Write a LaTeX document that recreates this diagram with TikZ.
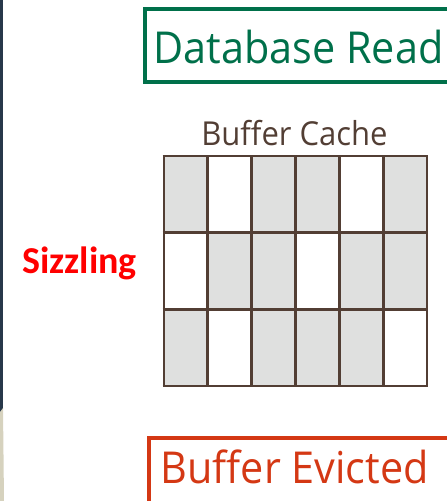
\documentclass[tikz,border=0pt]{standalone}
\usepackage{fontspec}
\newfontfamily\segoe[FakeStretch=0.94]{Open Sans}
\newfontfamily\calib{Carlito}
\definecolor{dbgreen}{RGB}{0,112,74}
\definecolor{evred}{RGB}{212,56,20}
\definecolor{gridbrown}{RGB}{82,62,52}
\definecolor{cellgray}{RGB}{223,224,223}
\definecolor{navy}{RGB}{40,56,74}
\definecolor{beige}{RGB}{214,210,190}
\tikzset{
  boxline/.style={line width=4pt},
  bigtext/.style={font=\segoe\fontsize{44}{48}\selectfont, inner sep=0pt, anchor=base west},
  gridline/.style={draw=gridbrown, line width=2.8pt},
}
\begin{document}
\begin{tikzpicture}[x=1pt,y=-1pt]
\useasboundingbox (0,0) rectangle (447,501);
\begin{scope}
\clip (0,0) rectangle (447,501);
% left strip
\fill[navy] (0,0) rectangle (3,412);
\fill[beige] (0,412) -- (3,408) -- (4,501) -- (0,501) -- cycle;
% green box
\draw[boxline, draw=dbgreen] (460,8.5) -- (145.3,8.5) -- (145.3,82) -- (460,82);
% red box
\draw[boxline, draw=evred] (460,437.5) -- (148.5,437.5) -- (148.5,503) -- (460,503);
% grid cells
\foreach \r/\row in {0/{1,0,1,1,0,1},1/{0,1,1,0,1,1},2/{1,0,1,1,1,0}}{
  \foreach \g [count=\c from 0] in \row{
    \ifnum\g=1
      \fill[cellgray] (164+43.83*\c,156+76.67*\r) rectangle ++(43.83,76.67);
    \fi
  }
}
\foreach \c in {0,...,6} \draw[gridline] (164+43.83*\c,156) -- (164+43.83*\c,386);
\foreach \r in {0,...,3} \draw[gridline] (162.6,156+76.67*\r) -- (428.4,156+76.67*\r);
\end{scope}
\node[bigtext, text=dbgreen] (dbread) at (153.5,63) {Database Read};
\node[bigtext, text=evred] (evicted) at (160.5,483) {Buffer Evicted};
\node[font=\segoe\fontsize{33}{36}\selectfont, text=gridbrown, inner sep=0pt, anchor=base] (cache) at (294.5,145) {Buffer Cache};
\node[font=\calib\bfseries\fontsize{38}{40}\selectfont, text=red, inner sep=0pt, anchor=base west] (sizzle) at (22,273) {Sizzling};
\end{tikzpicture}
\end{document}
